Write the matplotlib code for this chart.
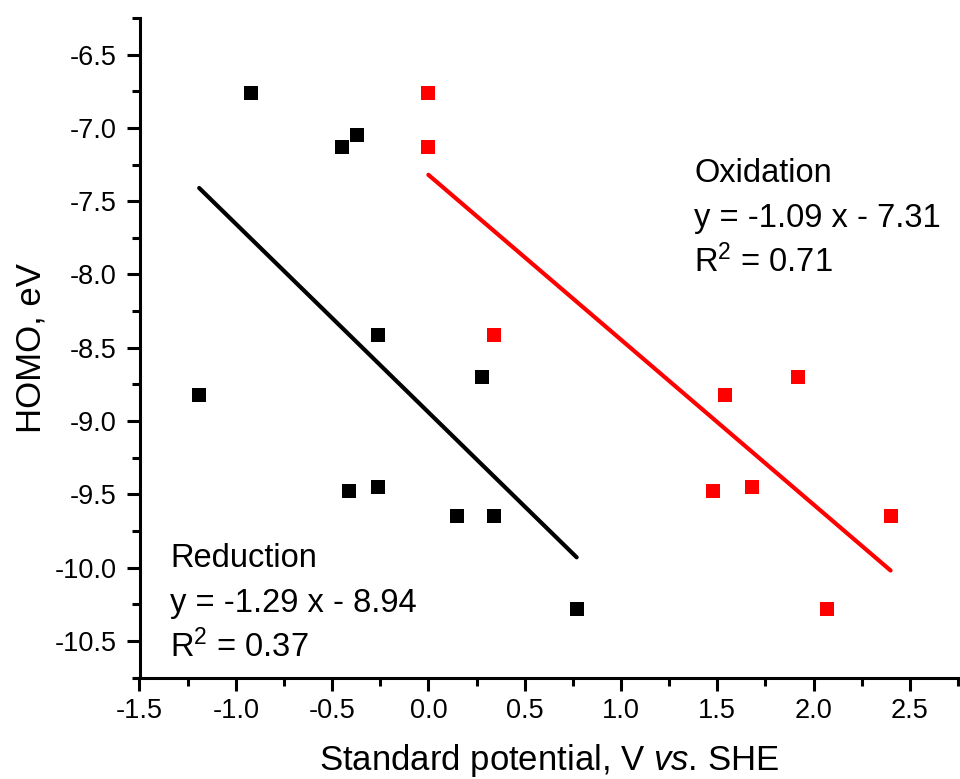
import matplotlib
matplotlib.use("Agg")
import matplotlib.pyplot as plt
from matplotlib.ticker import MultipleLocator

plt.rcParams['font.family'] = ['Liberation Sans', 'DejaVu Sans']
plt.rcParams['mathtext.fontset'] = 'custom'
plt.rcParams['mathtext.rm'] = 'Liberation Sans'
plt.rcParams['mathtext.it'] = 'Liberation Sans:italic'
plt.rcParams['mathtext.bf'] = 'Liberation Sans:bold'

# Reduction (black)
red_x = [-0.92, -0.45, -0.37, -0.26, 0.28, -1.19, -0.41, -0.26, 0.15, 0.34, 0.77]
red_y = [-6.76, -7.13, -7.05, -8.41, -8.70, -8.82, -9.48, -9.45, -9.65, -9.65, -10.28]
red_fit_x = [-1.19, 0.77]
red_fit_y = [-7.41, -9.93]

# Oxidation (red)
ox_x = [0.0, 0.0, 0.34, 1.54, 1.92, 1.48, 1.68, 2.40, 2.07]
ox_y = [-6.76, -7.13, -8.41, -8.82, -8.70, -9.48, -9.45, -9.65, -10.28]
ox_fit_x = [0.0, 2.40]
ox_fit_y = [-7.32, -10.02]

xticks = [-1.5, -1.0, -0.5, 0.0, 0.5, 1.0, 1.5, 2.0, 2.5]
yticks = [-6.5, -7.0, -7.5, -8.0, -8.5, -9.0, -9.5, -10.0, -10.5]

fig = plt.figure(figsize=(9.6, 7.79), dpi=100)
ax = fig.add_axes([139.5/960, (779-677.5)/779, (958-139.5)/960, (677.5-18)/779])

ax.plot(red_fit_x, red_fit_y, color='black', lw=3, solid_capstyle='round', zorder=2)
ax.plot(ox_fit_x, ox_fit_y, color='#ff0000', lw=3, solid_capstyle='round', zorder=2)
ax.plot(red_x, red_y, 's', color='black', ms=10, mew=0, ls='none', zorder=3)
ax.plot(ox_x, ox_y, 's', color='#ff0000', ms=10, mew=0, ls='none', zorder=3)

ax.set_xlim(-1.5, 2.75)
ax.set_ylim(-10.75, -6.25)
ax.set_xticks(xticks)
ax.set_yticks(yticks)
ax.set_xticklabels([f"{t:.1f}" for t in xticks])
ax.set_yticklabels([f"{t:.1f}" for t in yticks])
ax.xaxis.set_minor_locator(MultipleLocator(0.25))
ax.yaxis.set_minor_locator(MultipleLocator(0.25))

for s in ['top', 'right']:
    ax.spines[s].set_visible(False)
for s in ['left', 'bottom']:
    ax.spines[s].set_linewidth(2.2)

ax.tick_params(which='major', direction='out', length=9.5, width=2.2, labelsize=19.5)
ax.tick_params(axis='x', which='major', pad=5.5)
ax.tick_params(axis='y', which='major', pad=7)
ax.tick_params(which='minor', direction='out', length=5.8, width=2.2)

ax.set_xlabel(r"Standard potential, V $\mathit{vs}$. SHE", fontsize=25)
ax.xaxis.label.set_va('baseline')
ax.xaxis.set_label_coords(0.5, (677.5-770)/659.5)
ax.set_ylabel("HOMO, eV", fontsize=25)
ax.yaxis.label.set_va('baseline')
ax.yaxis.set_label_coords((41-139.5)/818.5, 0.5)

fs = 23.5
ax.text(1.381, -7.37, "Oxidation", fontsize=fs, va='baseline', ha='left')
ax.text(1.381, -7.673, "y = -1.09 x - 7.31", fontsize=fs, va='baseline', ha='left')
ax.text(1.381, -7.984, r"R$^2$ = 0.71", fontsize=fs, va='baseline', ha='left')

ax.text(-1.342, -9.993, "Reduction", fontsize=fs, va='baseline', ha='left')
ax.text(-1.342, -10.305, "y = -1.29 x - 8.94", fontsize=fs, va='baseline', ha='left')
ax.text(-1.342, -10.61, r"R$^2$ = 0.37", fontsize=fs, va='baseline', ha='left')

fig.savefig("out.png", dpi=100)
